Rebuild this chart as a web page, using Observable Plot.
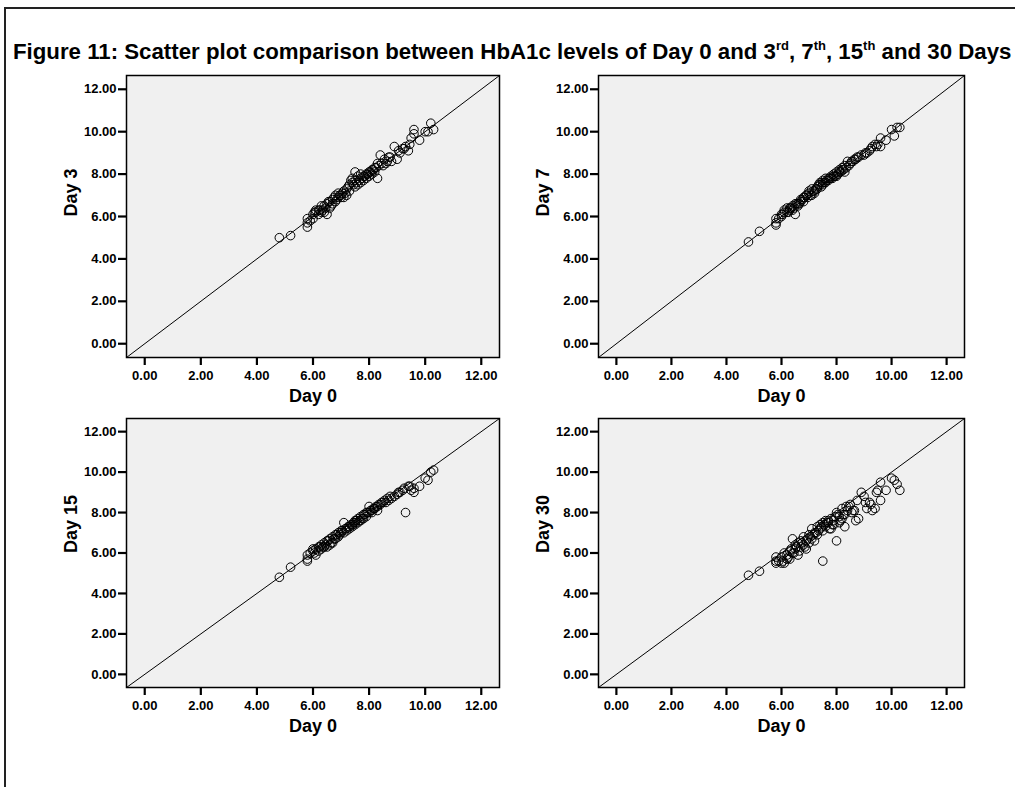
<!DOCTYPE html>
<html><head><meta charset="utf-8">
<script src="https://cdn.jsdelivr.net/npm/d3@7"></script>
<script src="https://cdn.jsdelivr.net/npm/@observablehq/plot@0.6"></script>
<style>
html,body{margin:0;padding:0;background:#fff;}
body{width:1015px;height:787px;overflow:hidden;position:relative;font-family:"Liberation Sans",Arial,sans-serif;}
#border{position:absolute;left:4px;top:7px;width:1100px;height:900px;border-top:2px solid #222;border-left:2px solid #222;}
#title{position:absolute;left:13px;top:41px;font-size:22.25px;line-height:22px;font-weight:bold;white-space:nowrap;color:#000;}
#title sup{font-size:13px;vertical-align:9px;line-height:0;}
.panel{position:absolute;}
.panel svg{background:none !important;}
</style></head><body>
<div id="border"></div>
<div id="title">Figure 11: Scatter plot comparison between HbA1c levels of Day 0 and 3<sup>rd</sup>, 7<sup>th</sup>, 15<sup>th</sup> and 30 Days</div>
<div id="p1" class="panel"></div>
<div id="p2" class="panel"></div>
<div id="p3" class="panel"></div>
<div id="p4" class="panel"></div>
<script>
// HbA1c values per patient
const day0 = [4.8,5.2,5.8,5.8,5.8,5.9,6.0,6.0,6.1,6.1,6.2,6.2,6.3,6.3,6.4,6.4,6.5,6.5,6.6,6.6,
  6.7,6.7,6.8,6.8,6.9,6.9,7.0,7.0,7.1,7.1,7.2,7.2,7.3,7.3,7.4,7.4,7.5,7.5,7.5,7.6,
  7.6,7.7,7.7,7.8,7.8,7.9,7.9,8.0,8.0,8.1,8.1,8.2,8.2,8.3,8.3,8.4,8.5,8.6,8.7,8.8,
  8.9,9.0,9.1,9.2,9.3,9.4,9.5,9.6,9.6,9.8,10.0,10.1,10.2,10.3,
  6.05,6.25,6.45,6.65,6.85,7.05,7.25,7.45,7.65,7.85,8.05,8.25,8.45,
  6.35,6.55,6.75,6.95,7.15,7.35,7.55,7.75,7.95,8.15,8.35,8.55,8.65,8.75,9.05,9.25,9.45];
const day3 = [5.0,5.1,5.9,5.5,5.7,5.8,6.1,5.9,6.2,6.3,6.1,6.3,6.2,6.5,6.2,6.5,6.1,6.6,6.4,6.7,
  6.6,6.8,7.0,6.7,6.9,7.1,6.9,7.0,7.2,6.9,7.3,7.0,7.5,7.2,7.6,7.8,8.1,7.4,7.7,7.5,
  7.9,7.6,8.0,7.7,7.9,7.8,8.0,7.9,8.1,8.0,8.2,8.1,8.3,7.8,8.5,8.9,8.4,8.5,8.8,8.6,
  9.3,8.7,9.0,9.2,9.3,9.1,9.7,10.1,9.9,9.6,10.0,10.0,10.4,10.1,
  6.2,6.3,6.4,6.5,6.8,7.1,7.4,7.5,7.7,7.9,8.1,8.3,8.5,
  6.3,6.7,6.9,7.0,7.1,7.7,7.6,7.8,8.0,8.2,8.4,8.7,8.6,8.8,9.1,9.2,9.4];
const day7 = [4.8,5.3,5.9,5.6,5.7,5.9,6.0,6.1,6.2,6.3,6.2,6.4,6.3,6.4,6.3,6.5,6.1,6.6,6.5,6.6,
  6.7,6.8,6.9,6.7,7.0,7.0,7.1,7.2,7.3,7.0,7.2,7.1,7.4,7.3,7.5,7.6,7.7,7.5,7.6,7.6,
  7.8,7.7,7.8,7.8,7.9,7.9,8.0,7.9,8.1,8.1,8.2,8.2,8.3,8.1,8.4,8.6,8.5,8.6,8.7,8.8,
  8.9,8.9,9.0,9.1,9.3,9.4,9.4,9.7,9.3,9.6,10.1,9.8,10.2,10.2,
  6.1,6.2,6.4,6.6,6.9,7.0,7.3,7.4,7.7,7.8,8.0,8.2,8.4,
  6.4,6.6,6.8,6.9,7.2,7.5,7.6,7.8,7.9,8.1,8.3,8.6,8.7,8.8,9.0,9.2,9.3];
const day15 = [4.8,5.3,5.9,5.7,5.6,6.0,6.1,6.2,5.9,6.2,6.1,6.3,6.2,6.4,6.3,6.5,6.3,6.6,6.4,6.7,
  6.5,6.8,6.7,6.9,6.8,7.0,7.0,7.1,7.5,7.0,7.2,7.1,7.3,7.2,7.4,7.3,7.5,7.4,7.6,7.5,
  7.7,7.6,7.8,7.7,7.9,7.8,8.0,8.3,8.0,8.0,8.1,8.2,8.2,8.1,8.3,8.4,8.5,8.5,8.6,8.7,
  8.8,8.9,9.0,9.1,8.0,9.3,9.1,9.2,9.0,9.3,9.7,9.6,10.0,10.1,
  6.0,6.3,6.4,6.5,6.9,7.1,7.3,7.5,7.6,7.9,8.1,8.3,8.5,
  6.3,6.6,6.7,6.9,7.2,7.4,7.6,7.7,8.0,8.2,8.4,8.6,8.7,8.8,9.0,9.2,9.3];
const day30 = [4.9,5.1,5.8,5.5,5.6,5.6,5.5,5.8,5.5,6.0,5.7,5.9,5.7,6.1,6.7,6.0,6.2,6.4,5.9,6.5,
  6.3,6.6,6.4,6.8,6.6,6.2,6.9,6.5,7.2,6.7,7.0,6.6,7.3,6.9,7.2,7.4,7.5,5.6,7.1,7.6,
  7.3,7.5,7.6,7.2,7.7,7.4,7.6,6.6,8.0,7.5,7.8,7.7,8.2,7.3,7.9,8.1,8.4,8.1,7.6,7.7,
  9.0,8.8,8.2,8.5,8.1,8.2,9.1,9.5,8.6,9.1,9.7,9.6,9.4,9.1,
  5.6,5.8,6.0,6.1,6.3,6.8,7.0,7.3,7.5,7.4,7.9,7.9,8.3,
  6.2,6.3,6.5,6.7,6.9,7.1,7.4,7.2,7.8,7.6,8.3,8.0,8.1,8.6,8.5,8.4,9.0];
const tickValues = [0, 2, 4, 6, 8, 10, 12];
const axisDomain = [-0.65, 12.65];
const xTitle = "Day 0";
const yTitles = ["Day 3", "Day 7", "Day 15", "Day 30"];

const fmt = d3.format(".2f");
const FONT = "'Liberation Sans', Arial, Helvetica, sans-serif";

function panel(id, yTitle, yVals, left, top, frameW, frameH) {
  const data = day0.map((d, i) => ({x: d, y: yVals[i]}));
  const ML = 100, MT = 10, MR = 8, MB = 58;
  const chart = Plot.plot({
    width: ML + frameW + MR, height: MT + frameH + MB,
    marginLeft: ML, marginTop: MT, marginRight: MR, marginBottom: MB,
    style: {background: "none", fontFamily: FONT, fontSize: "13px", fontWeight: "bold", color: "#000", overflow: "visible"},
    x: {domain: axisDomain},
    y: {domain: axisDomain},
    marks: [
      Plot.frame({fill: "#f0f0f0"}),
      Plot.link([axisDomain], {x1: d => d[0], y1: d => d[0], x2: d => d[1], y2: d => d[1], stroke: "#000", strokeWidth: 1}),
      Plot.dot(data, {x: "x", y: "y", r: 4.3, stroke: "#000", strokeWidth: 1, fill: "none"}),
      Plot.frame({stroke: "#000", strokeWidth: 1.5}),
      Plot.axisX({ticks: tickValues, tickFormat: fmt, tickSize: 8, tickPadding: 5, fontSize: 13, fontWeight: "bold", strokeWidth: 2.2, label: null}),
      Plot.axisY({ticks: tickValues, tickFormat: fmt, tickSize: 8, tickPadding: 2, fontSize: 13, fontWeight: "bold", strokeWidth: 2.2, label: null}),
      Plot.text([xTitle], {text: d => d, frameAnchor: "bottom", dy: 44, fontSize: 18, fontWeight: "bold", fill: "#000"}),
      Plot.text([yTitle], {text: d => d, frameAnchor: "left", dx: -55, rotate: -90, fontSize: 18, fontWeight: "bold", fill: "#000"})
    ]
  });
  const el = document.getElementById(id);
  el.style.left = (left - ML) + "px";
  el.style.top = (top - MT) + "px";
  el.style.width = (ML + frameW + MR) + "px";
  el.appendChild(chart);
}

panel("p1", yTitles[0], day3, 126, 75, 373, 282);
panel("p2", yTitles[1], day7, 598, 75, 366, 282);
panel("p3", yTitles[2], day15, 126, 418, 373, 269);
panel("p4", yTitles[3], day30, 598, 418, 366, 269);
</script>
</body></html>
